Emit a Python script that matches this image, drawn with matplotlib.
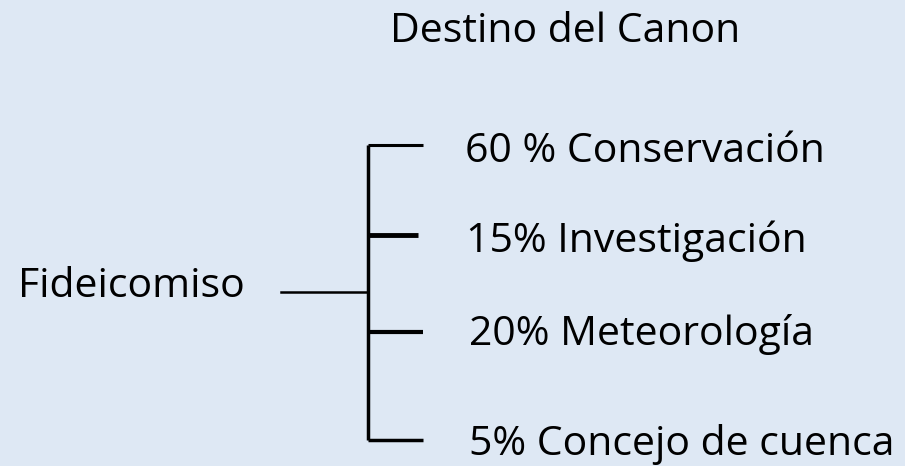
import matplotlib.pyplot as plt

title = 'Destino del Canon'
root = 'Fideicomiso'
branch_labels = ['60 % Conservación', '15% Investigación', '20% Meteorología', '5% Concejo de cuenca']

# layout in pixels (figure is 905x466)
branch_y = [145, 235, 332, 440]
branch_end = [423, 418, 423, 423]
branch_lw = [2.2, 3.5, 3.0, 2.5]
text_x = [465, 466, 469, 469]
text_base = [162, 252, 345, 455]
trunk_x = 368
root_y = 292

bg = '#dee8f4'
fig = plt.figure(figsize=(9.05, 4.66), dpi=100, facecolor=bg)
ax = fig.add_axes([0, 0, 1, 1])
ax.set_facecolor(bg)
ax.set_xlim(0, 905)
ax.set_ylim(466, 0)
ax.axis('off')

font = 'Open Sans'
fs = 29.5

ax.plot([trunk_x, trunk_x], [branch_y[0], branch_y[-1]], color='black', lw=2.5, solid_capstyle='butt')
ax.plot([281, trunk_x], [root_y, root_y], color='black', lw=1.8)
for y, xe, lw in zip(branch_y, branch_end, branch_lw):
    ax.plot([trunk_x, xe], [y, y], color='black', lw=lw, solid_capstyle='butt')

for lab, x, y in zip(branch_labels, text_x, text_base):
    ax.text(x, y, lab, fontsize=fs, family=font, va='baseline', ha='left')
ax.text(18, 297, root, fontsize=fs, family=font, va='baseline', ha='left')
ax.text(565, 42, title, fontsize=fs, family=font, va='baseline', ha='center')

fig.savefig('out.png', dpi=100, facecolor=bg)
